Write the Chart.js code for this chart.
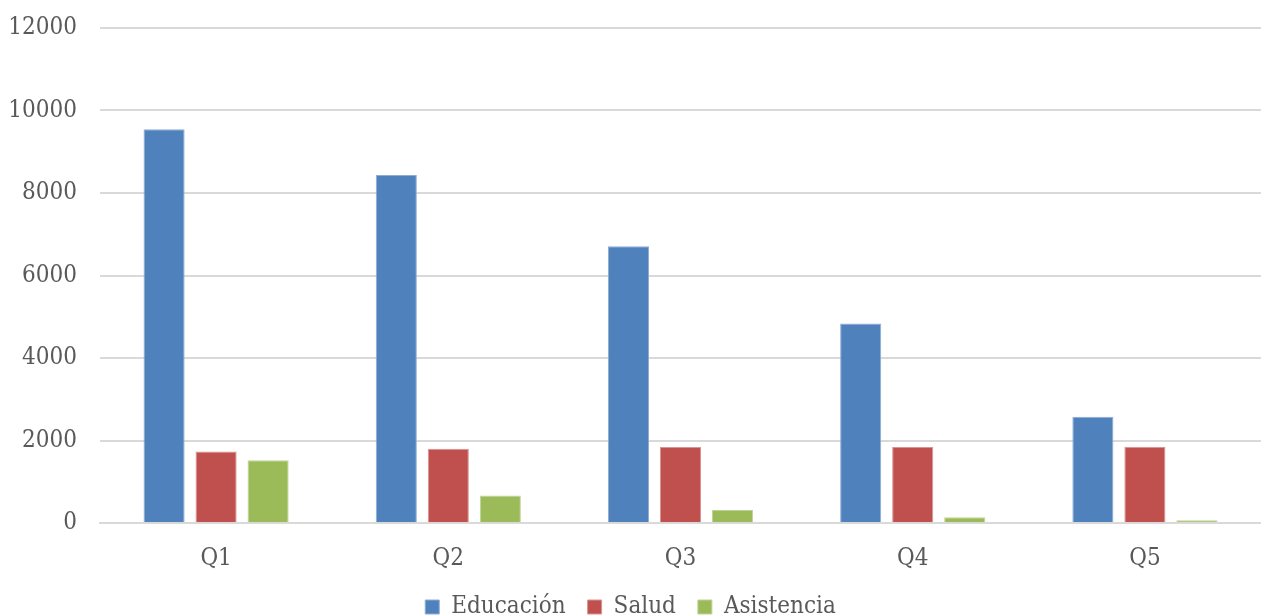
<!DOCTYPE html>
<html>
<head>
<meta charset="utf-8">
<script src="https://cdn.jsdelivr.net/npm/chart.js@4"></script>
<style>
  html, body { margin: 0; padding: 0; background: #fff; }
  #wrap { width: 1261px; height: 615px; }
</style>
</head>
<body>
<div id="wrap"><canvas id="quintiles"></canvas></div>
<script>
var categories = ["Q1", "Q2", "Q3", "Q4", "Q5"];
var educacion = [9545, 8435, 6710, 4837, 2577];
var salud = [1733, 1799, 1845, 1843, 1847];
var asistencia = [1524, 664, 316, 139, 66];
var yTicks = [0, 2000, 4000, 6000, 8000, 10000, 12000];

var font = "'DejaVu Serif Condensed', 'Liberation Serif', serif";
var gray = "#595959";

new Chart("quintiles", {
  type: "bar",
  data: {
    labels: categories,
    datasets: [
      { label: "Educación", data: educacion, backgroundColor: "#4f81bd", borderColor: "#8eacd4", borderWidth: 1 },
      { label: "Salud", data: salud, backgroundColor: "#c0504d", borderColor: "#d99391", borderWidth: 1 },
      { label: "Asistencia", data: asistencia, backgroundColor: "#9bbb59", borderColor: "#bfd494", borderWidth: 1 }
    ]
  },
  options: {
    responsive: true,
    maintainAspectRatio: false,
    animation: false,
    categoryPercentage: 0.672,
    barPercentage: 0.79,
    layout: { padding: { left: 0, right: 0, top: 28, bottom: -14 } },
    plugins: {
      tooltip: { enabled: false },
      legend: {
        position: "bottom",
        labels: {
          font: { family: font, size: 24 },
          color: gray,
          boxWidth: 14,
          boxHeight: 14,
          padding: 22
        }
      }
    },
    scales: {
      x: {
        grid: { display: false },
        border: { color: "#d9d9d9", width: 2 },
        ticks: { font: { family: font, size: 24 }, color: gray, padding: 13 },
        afterFit: function (scale) { scale.height = 50; }
      },
      y: {
        min: 0,
        max: 12000,
        afterBuildTicks: function (scale) {
          scale.ticks = yTicks.map(function (v) { return { value: v }; });
        },
        grid: { color: "#d9d9d9", lineWidth: 2, drawTicks: false },
        border: { display: false },
        ticks: {
          font: { family: font, size: 24 },
          color: gray,
          padding: 23,
          callback: function (v) { return String(v); }
        },
        afterFit: function (scale) {
          scale.width = 100;
          scale.paddingTop = 0;
          scale.paddingBottom = 0;
        }
      }
    }
  }
});
</script>
</body>
</html>
